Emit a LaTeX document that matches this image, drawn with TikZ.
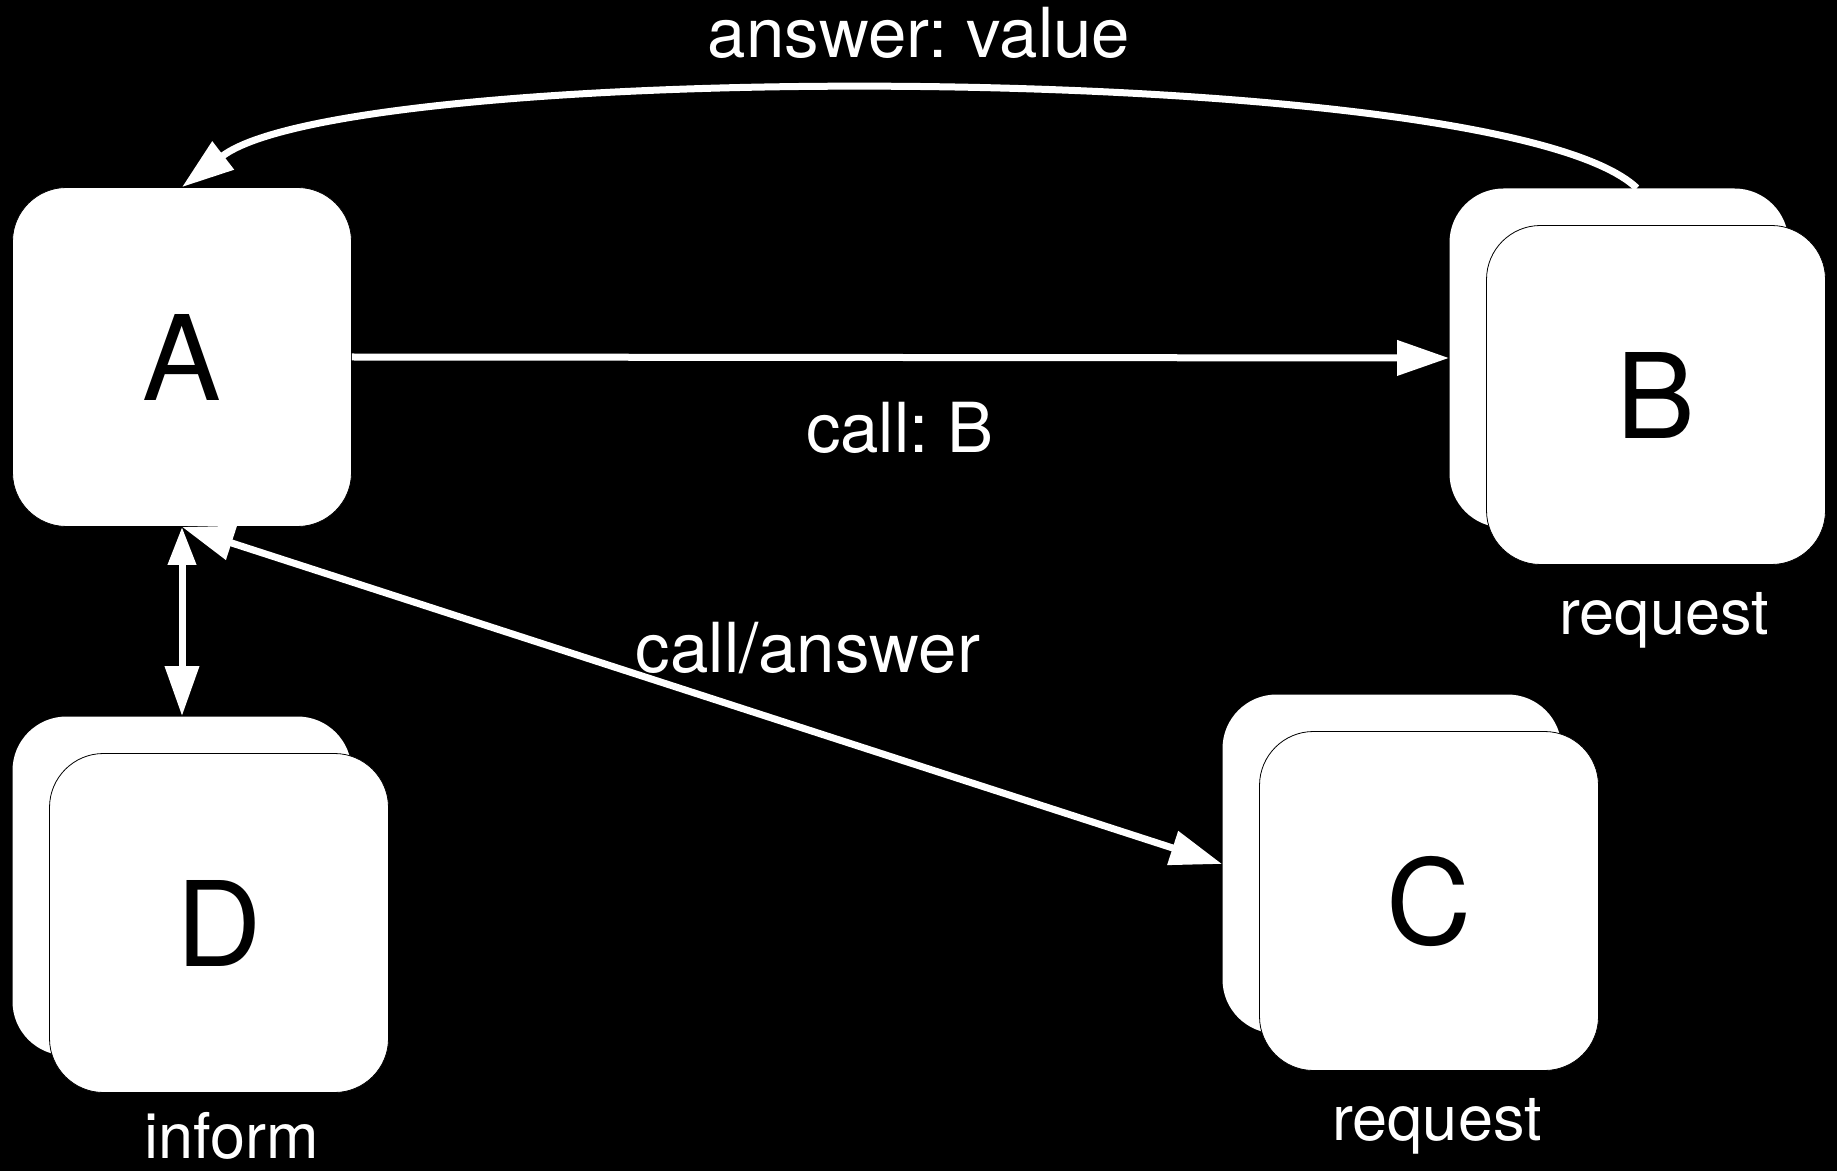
\documentclass[tikz,border=0pt]{standalone}
\usepackage{fontspec}
\setmainfont{TeX Gyre Heros}
\usetikzlibrary{arrows.meta}
\frenchspacing

\begin{document}
\begin{tikzpicture}[x=0.5pt, y=-0.5pt,
    agentbox/.style={rectangle, rounded corners=27pt, fill=white, draw=black, line width=0.4pt,
      minimum width=169.5pt, minimum height=169.5pt, inner sep=0pt, text=black,
      font=\fontsize{59}{70}\selectfont},
    backbox/.style={agentbox, draw=none},
    msglabel/.style={text=white, anchor=base, inner sep=0pt, font=\fontsize{34.5}{41}\selectfont},
    rolelabel/.style={msglabel, font=\fontsize{31.5}{38}\selectfont},
    msg/.style={draw=white, line width=3.5pt, >={Triangle[length=26pt, width=17pt]}}]
  \useasboundingbox (0,0) rectangle (1837,1171);
  \fill[black] (0,0) rectangle (1837,1171);

  % agents
  \node[agentbox] (A) at (182,357) {A};
  \node[backbox] (Bback) at (1619,358) {};
  \node[agentbox] (B) at (1656,395) {B};
  \node[backbox] (Cback) at (1392,864) {};
  \node[agentbox] (C) at (1429,901) {C};
  \node[backbox] (Dback) at (182,886) {};
  \node[agentbox] (D) at (219,923) {D};

  % messages
  \draw[msg, ->] (A.east) -- (Bback.west);
  \draw[msg, ->] (Bback.84) .. controls (1500,58) and (350,58) .. (A.north);
  \draw[msg, {Triangle[length=19pt, width=13.5pt]}-{Triangle[length=25pt, width=16.5pt]}] (A.south) -- (Dback.north);
  \draw[msg, <->] (A.south) -- (Cback.west);

  % labels
  \node[msglabel] (answerLbl) at (919,58) {answer: value};
  \node[msglabel] (callLbl) at (900,453) {call: B};
  \node[msglabel] (callAnswerLbl) at (808,672) {call/answer};
  \node[rolelabel] (reqB) at (1664,634) {request};
  \node[rolelabel] (reqC) at (1437,1140) {request};
  \node[rolelabel] (informD) at (232,1158) {inform};
\end{tikzpicture}
\end{document}
